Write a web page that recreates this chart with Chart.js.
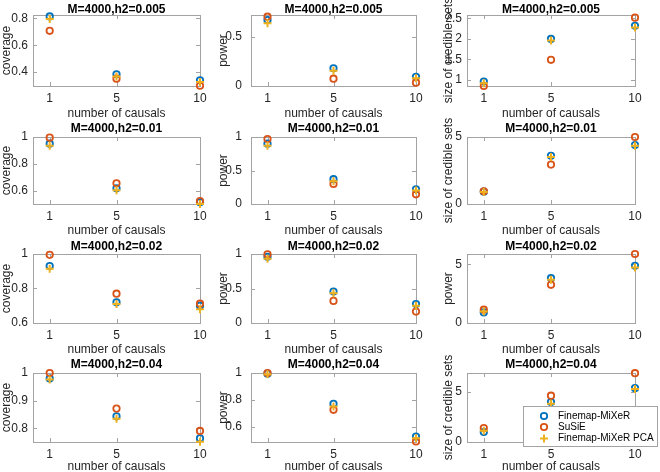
<!DOCTYPE html>
<html>
<head>
<meta charset="utf-8">
<script src="https://cdn.jsdelivr.net/npm/chart.js@4/dist/chart.umd.min.js"></script>
<style>
  html, body { margin: 0; padding: 0; background: #fff; }
  #fig { position: relative; width: 660px; height: 472px; overflow: hidden; background: #fff; }
  #fig canvas { position: absolute; }
</style>
</head>
<body>
<div id="fig"></div>
<script>
const causals = [1, 5, 10]
const xTicks = [1, 5, 10]
const h2 = ['0.005', '0.01', '0.02', '0.04']
const seriesNames = ['Finemap-MiXeR', 'SuSiE', 'Finemap-MiXeR PCA']

// coverage, one row per h2 value, one entry per number of causals
const covMixer = [[0.815, 0.383, 0.338], [0.95, 0.617, 0.513], [0.93, 0.72, 0.70], [0.98, 0.843, 0.763]]
const covSusie = [[0.708, 0.35, 0.297], [0.995, 0.655, 0.522], [0.995, 0.77, 0.712], [1.0, 0.871, 0.79]]
const covPca = [[0.797, 0.366, 0.324], [0.935, 0.603, 0.50], [0.915, 0.71, 0.68], [0.976, 0.834, 0.751]]
const covTicks = [[0.4, 0.6, 0.8], [0.6, 0.8, 1], [0.6, 0.8, 1], [0.8, 0.9, 1]]
const covRange = [[0.295, 0.826], [0.5, 1], [0.6, 1], [0.75, 1]]

// power
const powMixer = [[0.669, 0.18, 0.094], [0.90, 0.37, 0.22], [0.96, 0.455, 0.275], [0.995, 0.77, 0.526]]
const powSusie = [[0.703, 0.074, 0.034], [0.97, 0.30, 0.145], [0.995, 0.32, 0.165], [1.0, 0.726, 0.49]]
const powPca = [[0.636, 0.155, 0.078], [0.87, 0.34, 0.20], [0.93, 0.43, 0.25], [0.99, 0.75, 0.514]]
const powTicks = [[0, 0.5], [0, 0.5, 1], [0, 0.5, 1], [0.6, 0.8, 1]]
const powRange = [[0, 0.72], [0, 1], [0, 1], [0.486, 1]]

// size of credible sets
const sizeMixer = [[0.96, 2.0, 2.32], [0.92, 3.6, 4.4], [0.9, 3.81, 4.86], [0.99, 3.96, 5.34]]
const sizeSusie = [[0.85, 1.49, 2.52], [0.95, 2.94, 5.0], [1.13, 3.25, 5.87], [1.39, 4.59, 6.82]]
const sizePca = [[0.92, 1.96, 2.28], [0.9, 3.5, 4.35], [0.98, 3.67, 4.73], [1.12, 3.79, 5.25]]
const sizeTicks = [[1, 1.5, 2, 2.5], [0, 5], [0, 5], [0, 5]]
const sizeRange = [[0.85, 2.585], [0, 5], [0, 5.87], [0, 6.84]]
const sizeLabels = ['size of credible sets', 'size of credible sets', 'power', 'size of credible sets']

const COLORS = {
  mixer: '#0072BD',
  susie: '#D95319',
  pca: '#EDB120',
  axis: '#a3a3a3',
  text: '#262626',
}
const FONT = 'Helvetica, "Liberation Sans", Arial, sans-serif'

// page layout of the plot boxes (pixels)
const plotL = [33, 251, 467], plotR = [200, 416, 635]
const plotT = [15, 137, 254, 373], plotB = [86, 204, 323, 442]
const yTitleX = [6, 223, 448]
const yTickPad = [5, 9, 5]
const titleGap = [5, 8, 7, 8.5]
const xAxisH = [35, 34, 34, 32]
const PAD_T = 22, PAD_R = 25

Chart.defaults.font.family = FONT
Chart.defaults.color = COLORS.text

const boxPlugin = {
  id: 'box',
  beforeDatasetsDraw(chart) {
    const { ctx, chartArea: a, scales } = chart
    ctx.save()
    ctx.strokeStyle = COLORS.axis
    ctx.lineWidth = 1
    ctx.strokeRect(a.left + 0.5, a.top + 0.5, a.right - a.left, a.bottom - a.top)
    ctx.beginPath()
    scales.y.ticks.forEach(t => {
      const py = Math.round(scales.y.getPixelForValue(t.value)) + 0.5
      ctx.moveTo(a.left, py); ctx.lineTo(a.left + 4, py)
      ctx.moveTo(a.right, py); ctx.lineTo(a.right - 4, py)
    })
    scales.x.ticks.forEach(t => {
      const px = Math.round(scales.x.getPixelForValue(t.value)) + 0.5
      ctx.moveTo(px, a.bottom); ctx.lineTo(px, a.bottom - 4)
      ctx.moveTo(px, a.top); ctx.lineTo(px, a.top + 4)
    })
    ctx.stroke()
    ctx.restore()
  },
}

const titlePlugin = {
  id: 'panelTitle',
  afterDraw(chart, args, opts) {
    const { ctx, chartArea: a } = chart
    ctx.save()
    ctx.font = 'bold 12px ' + FONT
    ctx.fillStyle = '#000'
    ctx.textAlign = 'center'
    ctx.textBaseline = 'middle'
    ctx.fillText(opts.text, (a.left + a.right) / 2, a.top - opts.gap)
    ctx.restore()
  },
}

const legendPlugin = {
  id: 'boxLegend',
  afterDraw(chart, args, opts) {
    if (!opts.show) return
    const { ctx } = chart
    const x0 = 523 - opts.ox, y0 = 406 - opts.oy
    ctx.save()
    ctx.fillStyle = '#fff'
    ctx.strokeStyle = COLORS.axis
    ctx.lineWidth = 1
    ctx.fillRect(x0, y0, 135, 41)
    ctx.strokeRect(x0 + 0.5, y0 + 0.5, 134, 40)
    const rows = [y0 + 10, y0 + 21, y0 + 32.5]
    const cols = [COLORS.mixer, COLORS.susie, COLORS.pca]
    seriesNames.forEach((name, i) => {
      const mx = x0 + 21, my = rows[i]
      ctx.strokeStyle = cols[i]
      ctx.lineWidth = i === 2 ? 2 : 1.8
      ctx.beginPath()
      if (i === 2) {
        ctx.moveTo(mx - 4, my); ctx.lineTo(mx + 4, my)
        ctx.moveTo(mx, my - 4); ctx.lineTo(mx, my + 4)
      } else {
        ctx.arc(mx, my, 3.2, 0, Math.PI * 2)
      }
      ctx.stroke()
      ctx.fillStyle = '#000'
      ctx.font = '10px ' + FONT
      ctx.textAlign = 'left'
      ctx.textBaseline = 'middle'
      ctx.fillText(name, x0 + 35, my)
    })
    ctx.restore()
  },
}

function points(vals) {
  return causals.map((x, i) => ({ x, y: vals[i] }))
}

function makePanel(r, c, yLabel, mixer, susie, pca, ticks, range, last) {
  const yw = Math.round(plotL[c] - yTitleX[c] + 7.2)
  const xh = xAxisH[r]
  const left = plotL[c] - yw
  const top = plotT[r] - PAD_T
  const w = yw + (plotR[c] - plotL[c]) + PAD_R
  const h = PAD_T + (plotB[r] - plotT[r]) + xh
  const canvas = document.createElement('canvas')
  canvas.width = w
  canvas.height = h
  canvas.style.left = left + 'px'
  canvas.style.top = top + 'px'
  document.getElementById('fig').appendChild(canvas)

  const circle = color => ({
    pointStyle: 'circle',
    pointRadius: 3.2,
    borderWidth: 1.8,
    borderColor: color,
    backgroundColor: 'rgba(0,0,0,0)',
    clip: false,
  })

  new Chart(canvas, {
    type: 'scatter',
    data: {
      datasets: [
        { label: seriesNames[0], data: points(mixer), order: 3, ...circle(COLORS.mixer) },
        { label: seriesNames[1], data: points(susie), order: 2, ...circle(COLORS.susie) },
        {
          label: seriesNames[2],
          data: points(pca),
          order: 1,
          pointStyle: 'cross',
          pointRadius: 4,
          borderWidth: 2,
          borderColor: COLORS.pca,
          backgroundColor: COLORS.pca,
          clip: false,
        },
      ],
    },
    options: {
      responsive: false,
      animation: false,
      devicePixelRatio: 1,
      events: [],
      layout: { padding: { left: 0, top: PAD_T, right: PAD_R, bottom: 0 } },
      plugins: {
        legend: { display: false },
        tooltip: { enabled: false },
        panelTitle: { text: 'M=4000,h2=' + h2[r], gap: titleGap[r] },
        boxLegend: { show: last, ox: left, oy: top },
      },
      scales: {
        x: {
          type: 'linear',
          min: 0,
          max: 10,
          afterBuildTicks: s => { s.ticks = xTicks.map(v => ({ value: v })) },
          afterFit: s => { s.height = xh },
          grid: { display: false, drawTicks: false },
          border: { display: false },
          ticks: { padding: 5, maxRotation: 0, font: { size: 12 }, callback: v => String(v) },
          title: { display: true, text: 'number of causals', padding: 0, font: { size: 12 } },
        },
        y: {
          type: 'linear',
          min: range[0],
          max: range[1],
          afterBuildTicks: s => { s.ticks = ticks.map(v => ({ value: v })) },
          afterFit: s => { s.width = yw },
          grid: { display: false, drawTicks: false },
          border: { display: false },
          ticks: { padding: yTickPad[c], font: { size: 12 }, callback: v => String(v) },
          title: { display: true, text: yLabel, padding: 0, font: { size: 12 } },
        },
      },
    },
    plugins: [boxPlugin, titlePlugin, legendPlugin],
  })
}

for (let r = 0; r < 4; r++) {
  makePanel(r, 0, 'coverage', covMixer[r], covSusie[r], covPca[r], covTicks[r], covRange[r], false)
  makePanel(r, 1, 'power', powMixer[r], powSusie[r], powPca[r], powTicks[r], powRange[r], false)
  makePanel(r, 2, sizeLabels[r], sizeMixer[r], sizeSusie[r], sizePca[r], sizeTicks[r], sizeRange[r], r === 3)
}
</script>
</body>
</html>
